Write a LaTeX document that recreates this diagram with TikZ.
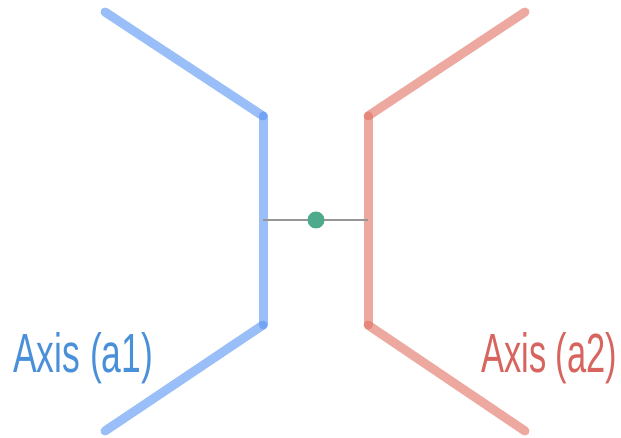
\documentclass[tikz,border=0pt]{standalone}
\usepackage{fontspec}
\setmainfont{Liberation Sans}
\usepackage{graphicx}
\definecolor{axblue}{RGB}{87,148,242}
\definecolor{axred}{RGB}{225,113,97}
\definecolor{lblblue}{RGB}{74,144,217}
\definecolor{lblred}{RGB}{215,100,95}
\definecolor{dotgreen}{RGB}{77,170,140}
\definecolor{rodgray}{RGB}{150,150,150}
\begin{document}
\begin{tikzpicture}[x=1pt,y=-1pt,
  bluearm/.style={draw=axblue,line width=9pt,line cap=round,draw opacity=0.6},
  redarm/.style={draw=axred,line width=9pt,line cap=round,draw opacity=0.6},
  rod/.style={draw=rodgray,line width=2pt},
  lbl/.style={inner sep=0pt,anchor=base west}]
\useasboundingbox (0,0) rectangle (621,438);
\fill[white] (0,0) rectangle (621,438);
% blue axis
\coordinate (b0) at (105,12);
\coordinate (b1) at (263,116);
\coordinate (b2) at (263,325);
\coordinate (b3) at (105,431);
\draw[bluearm] (b0) -- (b1);
\draw[bluearm] (b1) -- (b2);
\draw[bluearm] (b2) -- (b3);
% red axis
\coordinate (r0) at (525,12);
\coordinate (r1) at (368,116);
\coordinate (r2) at (368,325);
\coordinate (r3) at (525,431);
\draw[redarm] (r0) -- (r1);
\draw[redarm] (r1) -- (r2);
\draw[redarm] (r2) -- (r3);
% rod and ball
\coordinate (rl) at (263,220);
\coordinate (rr) at (368,220);
\draw[rod] (rl) -- (rr);
\node[circle,fill=dotgreen,minimum size=17pt,inner sep=0pt] (ball) at (316,220) {};
% labels
\node[lbl,text=lblblue] (la) at (13,372) {\resizebox{140pt}{40pt}{Axis (a1)}};
\node[lbl,text=lblred] (lb) at (481,372) {\resizebox{136pt}{40pt}{Axis (a2)}};
\end{tikzpicture}
\end{document}
